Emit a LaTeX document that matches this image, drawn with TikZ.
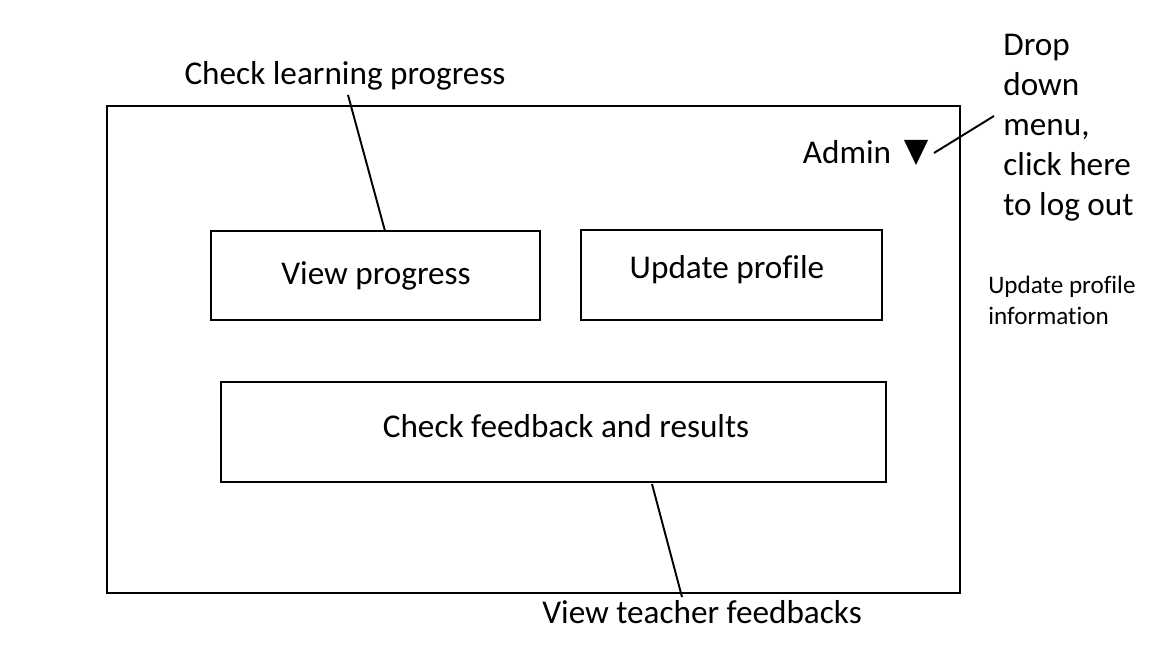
\documentclass[tikz,border=0pt]{standalone}
\usepackage{fontspec}
\setmainfont[Ligatures=NoCommon]{Carlito}
\tikzset{
  screenbox/.style={draw, line width=1.3pt, inner sep=0pt},
  btn/.style={draw, line width=1.2pt, inner sep=0pt},
  note/.style={font=\fontsize{18.9}{22.7}\selectfont, inner sep=0pt},
  smallnote/.style={font=\fontsize{14.3}{17.6}\selectfont, inner sep=0pt},
  pointer/.style={line width=1.1pt}
}
\begin{document}
\begin{tikzpicture}
    \useasboundingbox (0,0) rectangle (23.2,13);

    % Screen frame
    \node[screenbox, minimum width=17.06cm, minimum height=9.74cm] (screen) at (10.67,6.01) {};

    % Buttons
    \node[btn, minimum width=6.58cm, minimum height=1.78cm] (progress) at (7.51,7.49) {};
    \node[note] (progresstxt) at (7.52,7.49) {View progress};
    \node[btn, minimum width=6.02cm, minimum height=1.8cm] (profile) at (14.63,7.5) {};
    \node[note] (profiletxt) at (14.54,7.61) {Update profile};
    \node[btn, minimum width=13.3cm, minimum height=2cm] (feedback) at (11.07,4.36) {};
    \node[note] (feedbacktxt) at (11.32,4.48) {Check feedback and results};

    % Admin menu
    \node[note] (admin) at (16.94,9.96) {Admin};
    \fill (18.08,10.2) coordinate (trileft) -- (18.56,10.2) -- (18.32,9.7) -- cycle;
    \coordinate (triright) at (18.68,9.94);

    % Annotations
    \node[note] (learning) at (6.9,11.49) {Check learning progress};
    \node[note] (teacher) at (14.04,0.76) {View teacher feedbacks};
    \node[note, anchor=north west, align=left] (dropdown) at (20.06,12.32)
        {Drop\\down\\menu,\\click here\\to log out};
    \node[smallnote, anchor=north west, align=left] (profilenote) at (19.76,7.48)
        {Update profile\\information};

    % Pointer lines
    \coordinate (learnend) at (6.96,11.1);
    \coordinate (progresstop) at (7.7,8.38);
    \draw[pointer] (learnend) -- (progresstop);
    \coordinate (feedbackbot) at (13.04,3.32);
    \coordinate (teacherend) at (13.64,1.06);
    \draw[pointer] (feedbackbot) -- (teacherend);
    \coordinate (dropend) at (19.88,10.68);
    \draw[pointer] (triright) -- (dropend);

\end{tikzpicture}
\end{document}
